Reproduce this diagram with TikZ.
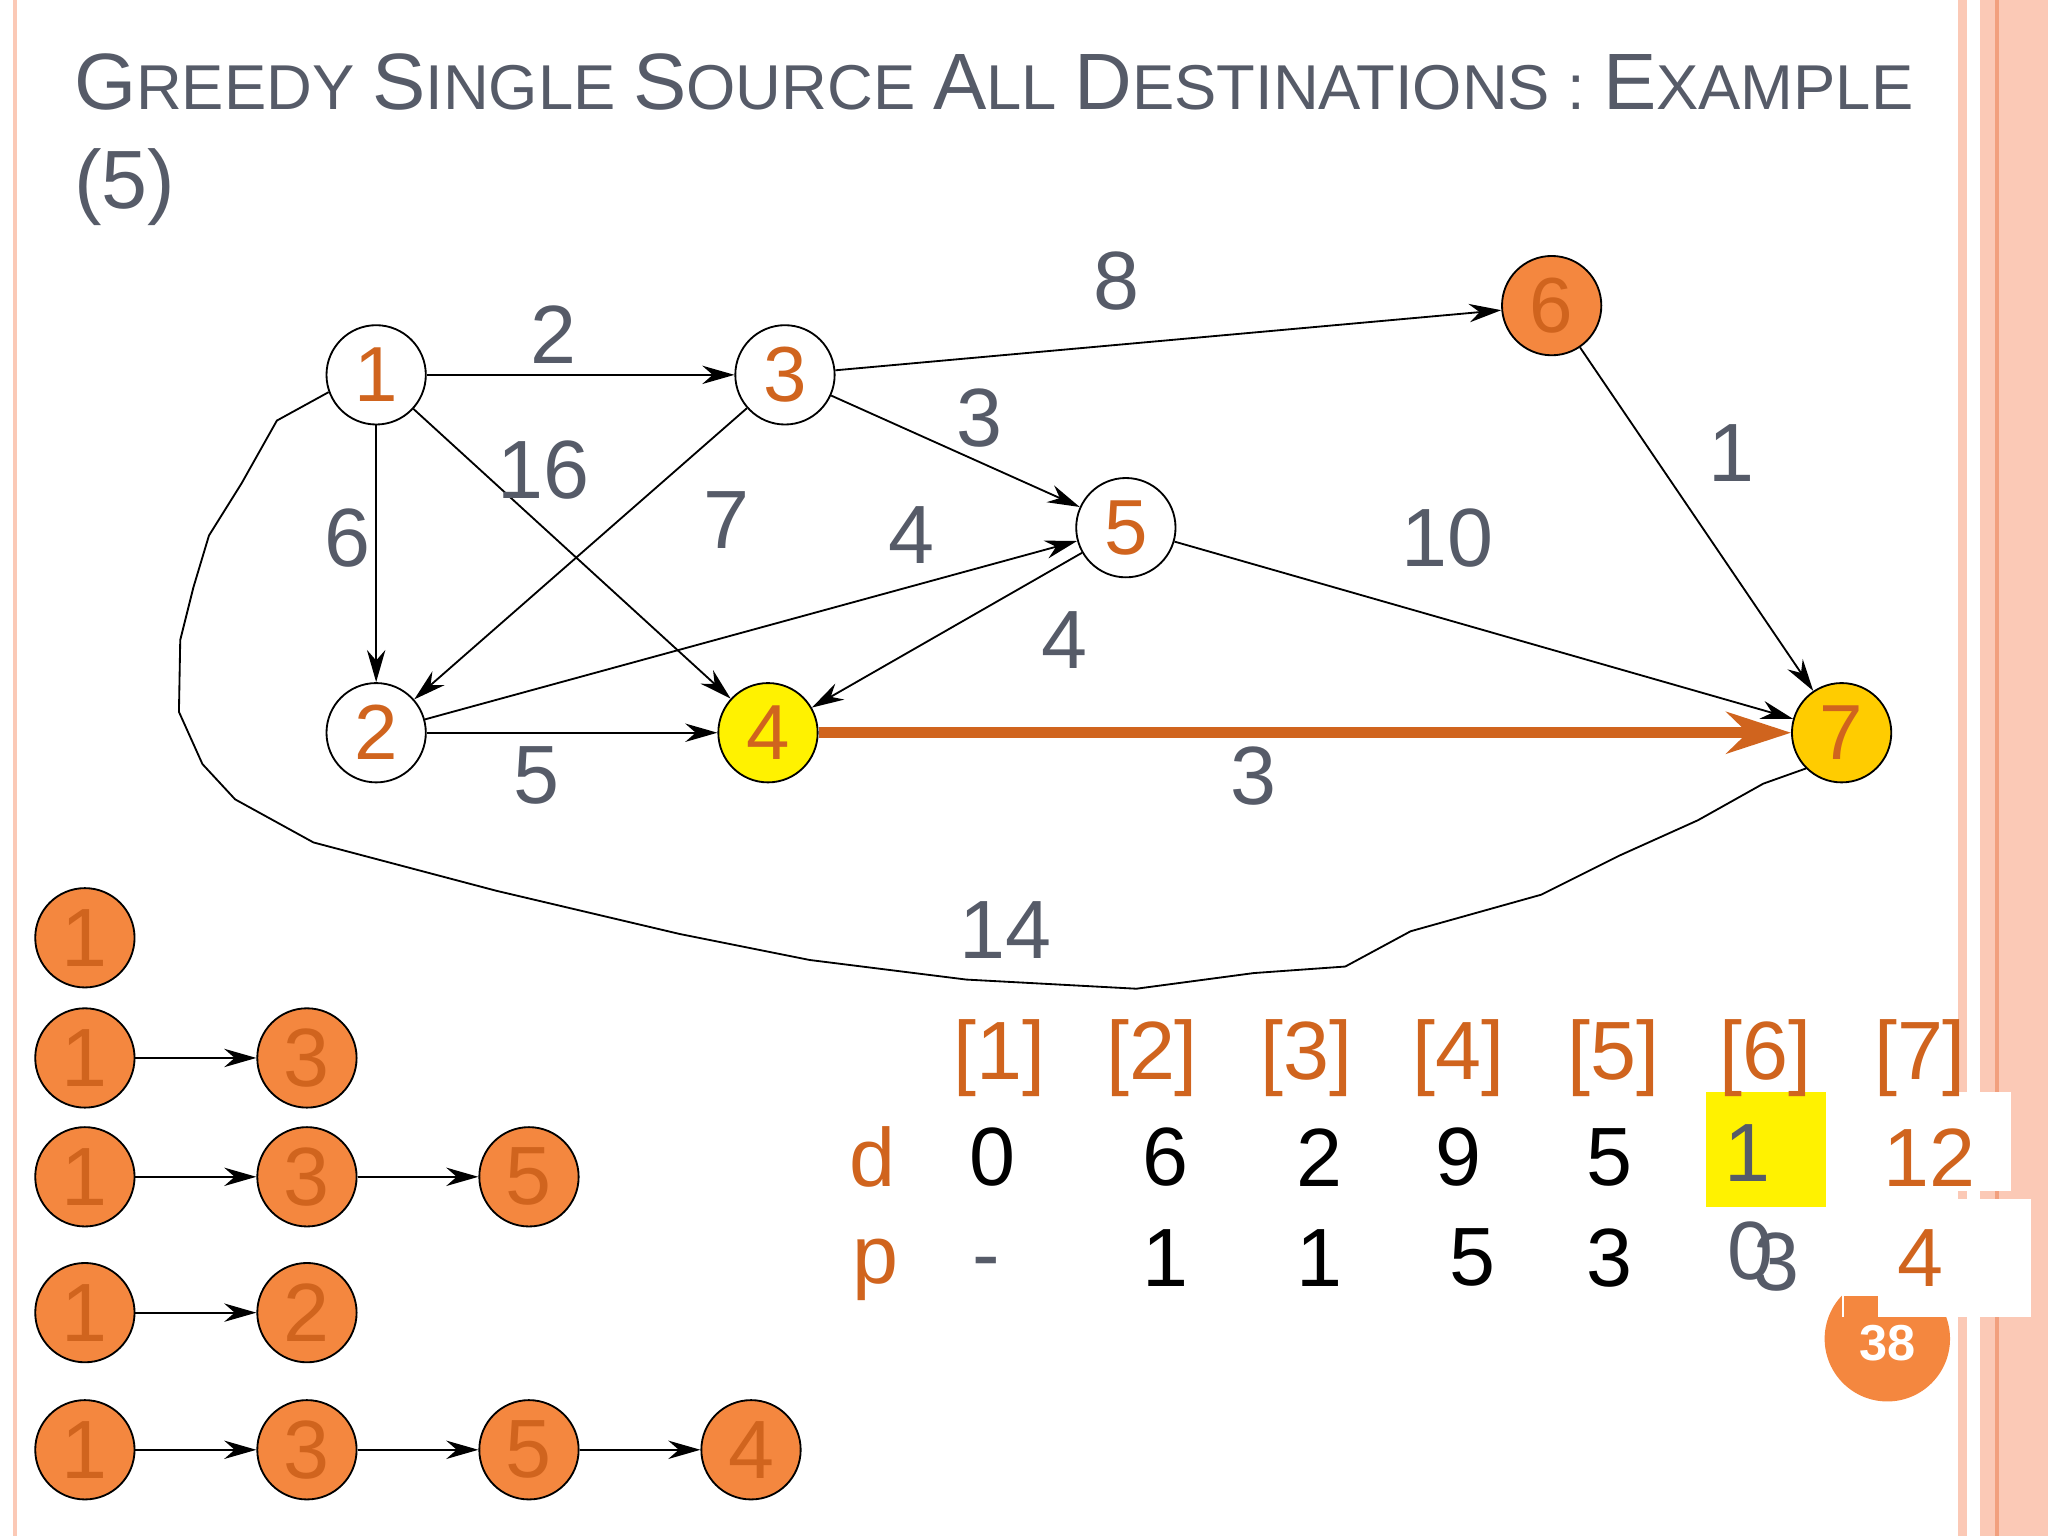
\documentclass[tikz,border=0pt]{standalone}
\usepackage{fontspec}
\setmainfont{Liberation Sans}
\usetikzlibrary{arrows.meta}
\definecolor{tor}{HTML}{D0641E}
\definecolor{nor}{HTML}{F4873F}
\definecolor{gry}{HTML}{565B68}
\definecolor{pk}{HTML}{FBC9B6}
\definecolor{pkd}{HTML}{F2A07E}
\begin{document}
\begin{tikzpicture}[x=0.01cm,y=-0.01cm,
  vtx/.style={circle,draw,thin,minimum size=0.76cm,inner sep=0pt,text=tor,font=\fontsize{17}{17}\selectfont},
  onode/.style={circle,draw,thin,fill=nor,minimum size=0.76cm,inner sep=0pt,text=tor,font=\fontsize{18}{18}\selectfont},
  ed/.style={-{Stealth[length=7pt,width=4pt]},thin},
  lab/.style={text=gry,font=\fontsize{18}{18}\selectfont},
  tb/.style={font=\fontsize{18}{18}\selectfont},
  tbo/.style={font=\fontsize{18}{18}\selectfont,text=tor}]
\useasboundingbox (0,0) rectangle (1568,1176);
\fill[white] (0,0) rectangle (1568,1176);
% borders
\fill[pk] (10,0) rectangle (13,1176);
\fill[pk] (1499,0) rectangle (1506,1176);
\fill[pk] (1516,0) rectangle (1568,1176);
\draw[pkd,line width=0.8pt] (1529,0) -- (1529,1176);
% title
\node[anchor=base west,text=gry,inner sep=0pt] (t1) at (56,84) {\fontsize{13.8}{14}\selectfont{\fontsize{17.4}{17}\selectfont G}REEDY {\fontsize{17.4}{17}\selectfont S}INGLE {\fontsize{17.4}{17}\selectfont S}OURCE {\fontsize{17.4}{17}\selectfont A}LL {\fontsize{17.4}{17}\selectfont D}ESTINATIONS : {\fontsize{17.4}{17}\selectfont E}XAMPLE};
\node[anchor=base west,text=gry,inner sep=0pt] (t2) at (56,160) {\fontsize{18}{18}\selectfont (5)};
% graph nodes
\node[vtx] (n1) at (288,287) {1};
\node[vtx] (n3) at (601,287) {3};
\node[vtx,fill=nor] (n6) at (1188,234) {6};
\node[vtx] (n5) at (862,404) {5};
\node[vtx] (n2) at (288,561) {2};
\node[vtx,fill=yellow] (n4) at (588,561) {4};
\node[vtx,fill={rgb,255:red,255;green,204;blue,0}] (n7) at (1410,561) {7};
\draw[ed] (n1) -- (n3);
\draw[ed] (n1) -- (n2);
\draw[ed] (n1) -- (n4);
\draw[ed] (n3) -- (n2);
\draw[ed] (n3) -- (n5);
\draw[ed] (n3) -- (n6);
\draw[ed] (n2) -- (n5);
\draw[ed] (n2) -- (n4);
\draw[ed] (n5) -- (n4);
\draw[ed] (n5) -- (n7);
\draw[ed] (n6) -- (n7);
\draw[-{Stealth[length=14pt,width=9pt]},line width=2.5pt,tor] (n4) -- (n7);
\draw[thin] (n1.200) -- (212,322) -- (185,370) -- (160,410) -- (148,450) -- (138,490) -- (137,545)
  -- (155,585) -- (180,612) -- (240,645) -- (380,682) -- (520,715) -- (620,735) -- (740,750)
  -- (870,757) -- (960,745) -- (1030,740) -- (1080,713) -- (1180,685) -- (1240,655)
  -- (1300,628) -- (1350,600) -- (n7.225);
\node[lab] at (424,256) {2};
\node[lab] at (855,215) {8};
\node[lab] at (750,320) {3};
\node[lab] at (416,360) {16};
\node[lab] at (556,398) {7};
\node[lab] at (266,412) {6};
\node[lab] at (698,410) {4};
\node[lab] at (1326,347) {1};
\node[lab] at (1108,412) {10};
\node[lab] at (815,490) {4};
\node[lab] at (411,594) {5};
\node[lab] at (960,594) {3};
\node[lab] at (770,712) {14};
% paths
\node[onode] (a1) at (65,718) {1};
\node[onode] (b1) at (65,810) {1};
\node[onode] (b3) at (235,810) {3};
\node[onode] (c1) at (65,901) {1};
\node[onode] (c3) at (235,901) {3};
\node[onode] (c5) at (405,901) {5};
\node[onode] (d1) at (65,1005) {1};
\node[onode] (d2) at (235,1005) {2};
\node[onode] (e1) at (65,1110) {1};
\node[onode] (e3) at (235,1110) {3};
\node[onode] (e5) at (405,1110) {5};
\node[onode] (e4) at (575,1110) {4};
\draw[ed] (b1) -- (b3);
\draw[ed] (c1) -- (c3); \draw[ed] (c3) -- (c5);
\draw[ed] (d1) -- (d2);
\draw[ed] (e1) -- (e3); \draw[ed] (e3) -- (e5); \draw[ed] (e5) -- (e4);
% table
\fill[nor] (1445,1025) circle (48);
\node[text=white,font=\bfseries\fontsize{11}{11}\selectfont] (pg) at (1445,1028) {38};
\fill[yellow] (1306,836) rectangle (1398,924);
\fill[white] (1400,836) rectangle (1540,912);
\fill[white] (1410,918) rectangle (1555,1008);
\fill[nor] (1412,992) rectangle (1438,1010);
\foreach \x/\t in {765/1,882/2,1000/3,1117/4,1235/5,1352/6,1470/7}
  \node[tbo] at (\x,810) {[\t]};
\node[tbo] (dl) at (668,886) {d};
\node[tbo] (pl) at (670,972) {p};
\foreach \x/\t in {892/6,1010/2,1117/9,1232/5}
  \node[tb] at (\x,886) {\t};
\node[tb] at (760,886) {0};
\node[tb,text=gry] at (1338,883) {1};
\node[tbo] at (1477,886) {12};
\foreach \x/\t in {892/1,1010/1,1127/5,1232/3}
  \node[tb] at (\x,963) {\t};
\node[tb,text=gry] at (755,972) {-};
\node[tb,text=gry] at (1340,958) {0};
\node[tb,text=gry] at (1360,966) {3};
\node[tbo] at (1470,963) {4};
\end{tikzpicture}
\end{document}
